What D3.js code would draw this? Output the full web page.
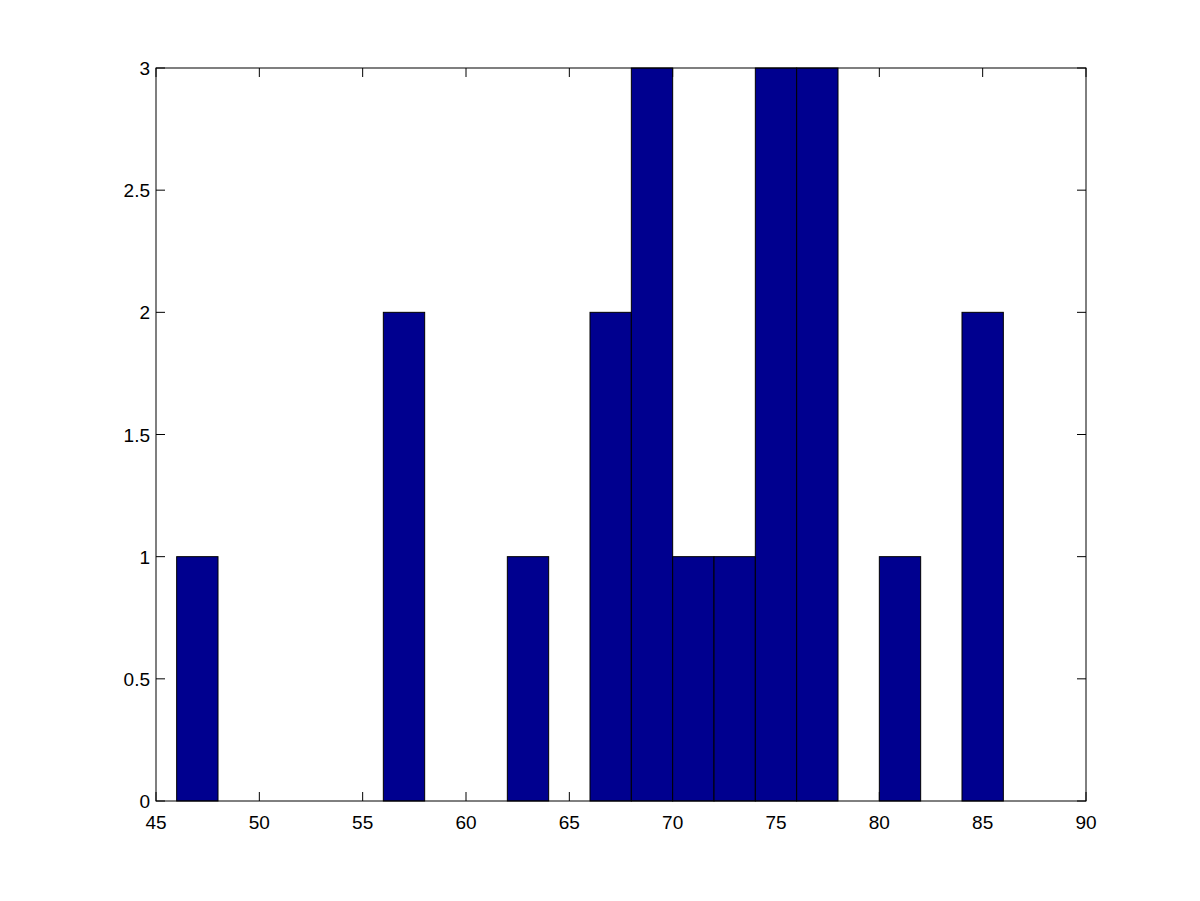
<!doctype html>
<meta charset="utf-8">
<style>
  body { margin: 0; background: #fff; }
  text { font-family: "Liberation Sans", Arial, sans-serif; font-size: 19px; fill: #000; }
</style>
<body>
<script src="https://d3js.org/d3.v7.min.js"></script>
<script>
// histogram bins (left edge, count), bin width 2
var binStarts = [46, 56, 62, 66, 68, 70, 72, 74, 76, 80, 84];
var binCounts = [1, 2, 1, 2, 3, 1, 1, 3, 3, 1, 2];
var binWidth = 2;
var xTicks = [45, 50, 55, 60, 65, 70, 75, 80, 85, 90];
var yTicks = [0, 0.5, 1, 1.5, 2, 2.5, 3];

var W = 1200, H = 901,
  axLeft = 156, axRight = 1086, axTop = 68, axBottom = 801,
  tick = 9;

var svg = d3.select('body').append('svg').attr('width', W).attr('height', H);

var x = d3.scaleLinear().domain([45, 90]).range([axLeft, axRight]);
var y = d3.scaleLinear().domain([0, 3]).range([axBottom, axTop]);

// ticks pointing inward, on all four sides (drawn under the bars)
var g = svg.append('g').style('stroke', '#000').style('stroke-width', 1);
xTicks.forEach(function(t){
  g.append('line').attr('x1', x(t)).attr('x2', x(t)).attr('y1', axBottom).attr('y2', axBottom - tick);
  g.append('line').attr('x1', x(t)).attr('x2', x(t)).attr('y1', axTop).attr('y2', axTop + tick);
});
yTicks.forEach(function(t){
  g.append('line').attr('x1', axLeft).attr('x2', axLeft + tick).attr('y1', y(t)).attr('y2', y(t));
  g.append('line').attr('x1', axRight).attr('x2', axRight - tick).attr('y1', y(t)).attr('y2', y(t));
});

// bars
svg.append('g')
  .selectAll('rect')
  .data(binStarts)
  .enter().append('rect')
    .attr('x', function(d){ return x(d); })
    .attr('y', function(d, i){ return y(binCounts[i]); })
    .attr('width', function(d){ return x(d + binWidth) - x(d); })
    .attr('height', function(d, i){ return axBottom - y(binCounts[i]); })
    .style('fill', '#00008f')
    .style('stroke', '#000')
    .style('stroke-width', 1);

// box
svg.append('rect')
  .attr('x', axLeft).attr('y', axTop)
  .attr('width', axRight - axLeft).attr('height', axBottom - axTop)
  .style('fill', 'none').style('stroke', '#000').style('stroke-width', 1);

// labels
svg.append('g').selectAll('text').data(xTicks).enter().append('text')
  .attr('x', function(d){ return x(d); })
  .attr('y', axBottom + 28)
  .style('text-anchor', 'middle')
  .text(function(d){ return d; });

svg.append('g').selectAll('text').data(yTicks).enter().append('text')
  .attr('x', axLeft - 6)
  .attr('y', function(d){ return y(d) + 7; })
  .style('text-anchor', 'end')
  .text(function(d){ return d; });
</script>
</body>
